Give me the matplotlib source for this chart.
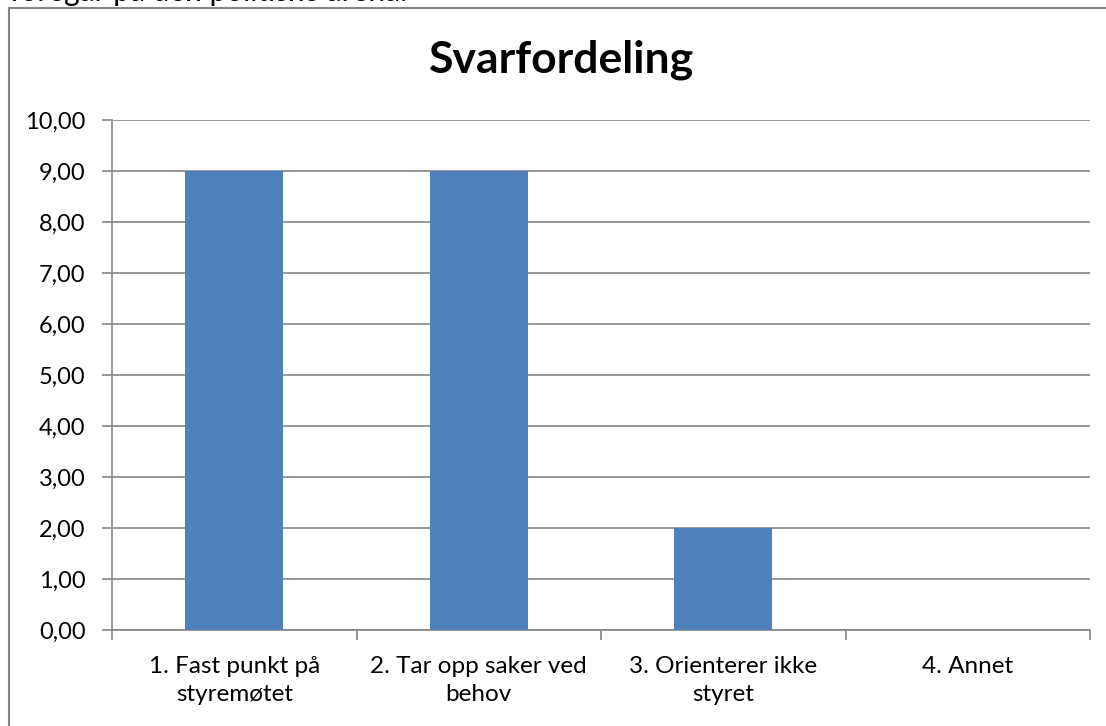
import matplotlib
matplotlib.use("Agg")
import matplotlib.pyplot as plt
from matplotlib.patches import Rectangle

categories = ["1. Fast punkt på\nstyremøtet", "2. Tar opp saker ved\nbehov",
              "3. Orienterer ikke\nstyret", "4. Annet"]
values = [9, 9, 2, 0]
yticks = [0, 1, 2, 3, 4, 5, 6, 7, 8, 9, 10]
ytick_labels = ["0,00", "1,00", "2,00", "3,00", "4,00", "5,00", "6,00", "7,00", "8,00", "9,00", "10,00"]
title = "Svarfordeling"
header_text = "foregår på den politiske arena."

plt.rcParams['font.family'] = ['Lato', 'DejaVu Sans']

W, H = 1106, 726
fig = plt.figure(figsize=(W / 100, H / 100), dpi=100)
fig.patch.set_facecolor("white")

# outer chart border
fig.patches.append(Rectangle((9 / W, -0.05), 1.2, (H - 8) / H + 0.05,
                             transform=fig.transFigure, fill=False,
                             edgecolor="#868686", linewidth=1.5))

fig.text(10 / W, (H - 1.5) / H, header_text, fontsize=21.5, va="baseline", ha="left", color="black")

ax = fig.add_axes([112 / W, (H - 630) / H, (1090 - 112) / W, 510 / H])
x = list(range(len(categories)))
ax.bar(x, values, width=0.4, color="#4F81BD", zorder=3)
ax.set_xlim(-0.5, len(categories) - 0.5)
ax.set_ylim(0, 10)
ax.set_yticks(yticks)
ax.set_yticklabels(ytick_labels, fontsize=17)
ax.set_xticks(x)
ax.set_xticklabels(categories, fontsize=17.5, linespacing=1.4)
ax.tick_params(axis="x", length=0, pad=19)
ax.set_xticks([i - 0.5 for i in range(len(categories) + 1)], minor=True)
ax.tick_params(axis="x", which="minor", length=7, color="#868686", width=1.2)
ax.tick_params(axis="y", length=7, color="#868686", width=1.2, pad=12)
ax.grid(axis="y", color="#868686", linewidth=1.2, zorder=0)
for s in ["top", "right"]:
    ax.spines[s].set_visible(False)
for s in ["left", "bottom"]:
    ax.spines[s].set_color("#868686")
    ax.spines[s].set_linewidth(1.2)
fig.text(562 / W, (H - 60) / H, title, fontsize=32, fontweight="bold", ha="center", va="center")

fig.savefig("out.png", dpi=100)
